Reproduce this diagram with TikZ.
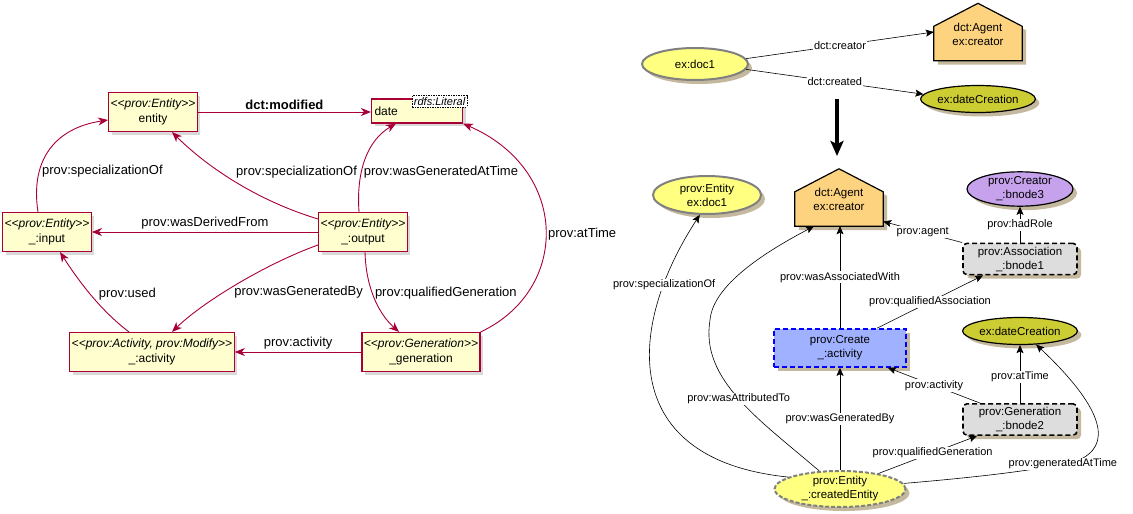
\documentclass[tikz,border=0pt]{standalone}
\usepackage{fontspec}
\setmainfont{Liberation Sans}
\usetikzlibrary{arrows.meta,shapes.geometric,shadows,positioning}
\definecolor{umlred}{HTML}{A80036}
\definecolor{umlfill}{HTML}{FEFECE}
\definecolor{docyellow}{RGB}{255,255,128}
\definecolor{nodegrey}{RGB}{128,128,128}
\definecolor{agentorange}{RGB}{254,211,127}
\definecolor{literalolive}{RGB}{204,204,51}
\definecolor{rolelavender}{RGB}{198,162,236}
\definecolor{bnodegrey}{RGB}{221,221,221}
\definecolor{createblue}{RGB}{160,178,255}
\definecolor{rdfshadow}{RGB}{196,184,158}
\newcommand{\umlfont}{\fontsize{12}{15}\selectfont}
\newcommand{\umllblfont}{\fontsize{13}{15}\selectfont}
\newcommand{\rdffont}{\fontsize{11.5}{14}\selectfont}
\newcommand{\rdflblfont}{\fontsize{11}{13}\selectfont}
\newcommand{\stereo}[1]{\textit{<\kern0pt<#1>\kern0pt>}}
\newcommand{\agenthouse}[3]{\node[agentframe] (#1) at (#2) {};\filldraw[agentshape] (#1.south west) -- ([yshift=-23pt]#1.north west) -- (#1.north) -- ([yshift=-23pt]#1.north east) -- (#1.south east) -- cycle;\node[font=\rdffont, align=center, yshift=-2pt] (#1-text) at (#1) {#3};}
\tikzset{umlbox/.style={draw=umlred, fill=umlfill, line width=1.1pt, align=center, inner sep=2pt, minimum height=39pt, font=\umlfont, drop shadow={shadow xshift=3pt, shadow yshift=-3pt, opacity=.3}}}
\tikzset{umlarrow/.style={draw=umlred, line width=0.9pt, -{Stealth[length=10pt,width=8pt,inset=3pt]}}}
\tikzset{umllabel/.style={font=\umllblfont, inner sep=2pt}}
\tikzset{rdfshade/.style={drop shadow={shadow xshift=4pt, shadow yshift=-4pt, fill=rdfshadow, opacity=1}}}
\tikzset{rdfellipse/.style={ellipse, draw, line width=1.2pt, inner sep=0pt, align=center, font=\rdffont, minimum width=106pt, rdfshade}}
\tikzset{resource/.style={rdfellipse, fill=docyellow, draw=nodegrey, line width=2pt}}
\tikzset{bnodebox/.style={rectangle, rounded corners=4pt, draw, dashed, dash pattern=on 5pt off 3pt, line width=1.6pt, fill=bnodegrey, align=center, font=\rdffont, minimum width=114pt, minimum height=31pt, rdfshade}}
\tikzset{agentframe/.style={rectangle, inner sep=0pt, minimum width=88pt, minimum height=57pt}}
\tikzset{agentshape/.style={fill=agentorange, draw=black, line width=1.2pt, rdfshade}}
\tikzset{rdfarrow/.style={line width=0.6pt, -{Stealth[length=8pt,width=7pt,inset=1.5pt]}}}
\tikzset{rdflabel/.style={fill=white, inner sep=1pt, font=\rdflblfont}}

\begin{document}
\begin{tikzpicture}[x=1pt, y=-1pt]
\useasboundingbox (0,0) rectangle (1133,514);
% plantuml side
\node[umlbox, minimum width=86pt] (entity) at (153,112) {\stereo{prov:Entity}\\entity};
\node[umlbox, minimum width=91pt, minimum height=24pt, text width=85pt, align=left] (date) at (417,111) {date};
\node[draw, dashed, dash pattern=on 1.5pt off 1pt, line width=0.5pt, fill=white, inner sep=1.5pt, font=\fontsize{11}{13}\selectfont\itshape, anchor=north east] (literal) at ([xshift=4pt,yshift=3pt]date.north east) {rdfs:Literal};
\node[umlbox, minimum width=87pt] (input) at (47,232) {\stereo{prov:Entity}\\\_:input};
\node[umlbox, minimum width=87pt] (output) at (363,232) {\stereo{prov:Entity}\\\_:output};
\node[umlbox, minimum width=163pt] (activity) at (152,352) {\stereo{prov:Activity, prov:Modify}\\\_:activity};
\node[umlbox, minimum width=118pt] (generation) at (421,352) {\stereo{prov:Generation}\\\_generation};
\draw[umlarrow] (entity.east) -- node[umllabel, above] {\textbf{dct:modified}} (date.west |- entity.east);
\draw[umlarrow] ([xshift=-9pt]input.north) .. controls (30,160) and (55,128) .. node[umllabel, pos=.3, anchor=west] {prov:specializationOf} ([yshift=-8pt]entity.west);
\draw[umlarrow] ([yshift=13pt]output.west) .. controls (255,200) and (205,165) .. node[umllabel, pos=.5, anchor=south west] {prov:specializationOf} ([xshift=19pt]entity.south);
\draw[umlarrow] ([xshift=-4pt]output.north) .. controls (356,170) and (368,140) .. node[umllabel, pos=.35, anchor=west] {prov:wasGeneratedAtTime} ([xshift=-21pt]date.south);
\draw[umlarrow] (generation.north east) .. controls (570,290) and (570,170) .. node[umllabel, pos=.48, anchor=west] {prov:atTime} (date.south east);
\draw[umlarrow] (output.west) -- node[umllabel, above] {prov:wasDerivedFrom} (input.east);
\draw[umlarrow] ([yshift=-13pt]output.west) .. controls (270,262) and (205,300) .. node[umllabel, pos=.6, anchor=west, xshift=8pt] {prov:wasGeneratedBy} ([xshift=20pt]activity.north);
\draw[umlarrow] ([xshift=-23pt]activity.north) .. controls (100,310) and (78,280) .. node[umllabel, pos=.5, anchor=west, xshift=6pt] {prov:used} ([xshift=13pt]input.south);
\draw[umlarrow] ([xshift=2pt]output.south) .. controls (366,290) and (380,315) .. node[umllabel, pos=.42, anchor=west] {prov:qualifiedGeneration} ([xshift=-22pt]generation.north);
\draw[umlarrow] (generation.west) -- node[umllabel, above] {prov:activity} (activity.east);
% rdf side, before
\node[resource, minimum height=32pt] (doc1A) at (695,64) {ex:doc1};
\agenthouse{agentA}{978,32}{dct:Agent\\ex:creator}
\node[rdfellipse, fill=literalolive, minimum height=27pt] (dateA) at (978,99) {ex:dateCreation};
\draw[rdfarrow] (doc1A.6) -- node[rdflabel] {dct:creator} (agentA.west);
\draw[rdfarrow] (doc1A.-6) -- node[rdflabel] {dct:created} (dateA.175);
\coordinate (bigtop) at (837,99);
\coordinate (bigtip) at (837,156);
\draw[line width=3.5pt, -{Stealth[length=15pt,width=13pt,inset=3pt]}] (bigtop) -- (bigtip);
% rdf side, after
\node[resource, minimum width=108pt, minimum height=38pt] (entityB) at (707,195) {prov:Entity\\ex:doc1};
\agenthouse{agentB}{839,197.5}{dct:Agent\\ex:creator}
\node[rdfellipse, fill=rolelavender, minimum height=32pt] (creator) at (1020,189) {prov:Creator\\\_:bnode3};
\node[bnodebox] (assoc) at (1020,259) {prov:Association\\\_:bnode1};
\node[rectangle, draw=blue, dashed, dash pattern=on 5pt off 3pt, line width=1.6pt, fill=createblue, align=center, font=\rdffont, minimum width=132pt, minimum height=38pt, rdfshade] (create) at (840,348) {prov:Create\\\_:activity};
\node[rdfellipse, fill=literalolive, minimum height=27pt] (dateB) at (1020,331) {ex:dateCreation};
\node[bnodebox] (gen) at (1020,419.5) {prov:Generation\\\_:bnode2};
\node[resource, dashed, dash pattern=on 4pt off 2pt, minimum width=131pt, minimum height=36pt] (createdEntity) at (840,489) {prov:Entity\\\_:createdEntity};
\draw[rdfarrow] (createdEntity.167) .. controls (620,460) and (625,330) .. node[rdflabel, pos=.8] {prov:specializationOf} (entityB.-110);
\draw[rdfarrow] (createdEntity.139) .. controls (760,420) and (700,380) .. node[rdflabel] {prov:wasAttributedTo} (710,320) .. controls (713,285) and (765,252) .. ([xshift=-25pt]agentB.south);
\draw[rdfarrow] (createdEntity.north) -- node[rdflabel] {prov:wasGeneratedBy} (create.south);
\draw[rdfarrow] (create.north) -- node[rdflabel] {prov:wasAssociatedWith} (create.north |- agentB.south);
\draw[rdfarrow] ([xshift=37pt]create.north) -- node[rdflabel] {prov:qualifiedAssociation} ([xshift=-37pt]assoc.south);
\draw[rdfarrow] (assoc.north west) -- node[rdflabel] {prov:agent} ([yshift=-24pt]agentB.east);
\draw[rdfarrow] (assoc.north) -- node[rdflabel] {prov:hadRole} (creator.south);
\draw[rdfarrow] ([xshift=-40pt]gen.north) -- node[rdflabel] {prov:activity} ([xshift=48pt]create.south);
\draw[rdfarrow] (gen.north) -- node[rdflabel, pos=.45] {prov:atTime} (dateB.south);
\draw[rdfarrow] (createdEntity.22) -- node[rdflabel, pos=.55] {prov:qualifiedGeneration} ([xshift=-43pt]gen.south);
\draw[rdfarrow] (createdEntity.5) .. controls (980,477) and (1060,468) .. node[rdflabel, pos=.8] {prov:generatedAtTime} (1083,458) .. controls (1115,440) and (1095,400) .. (dateB.-40);
\end{tikzpicture}
\end{document}
